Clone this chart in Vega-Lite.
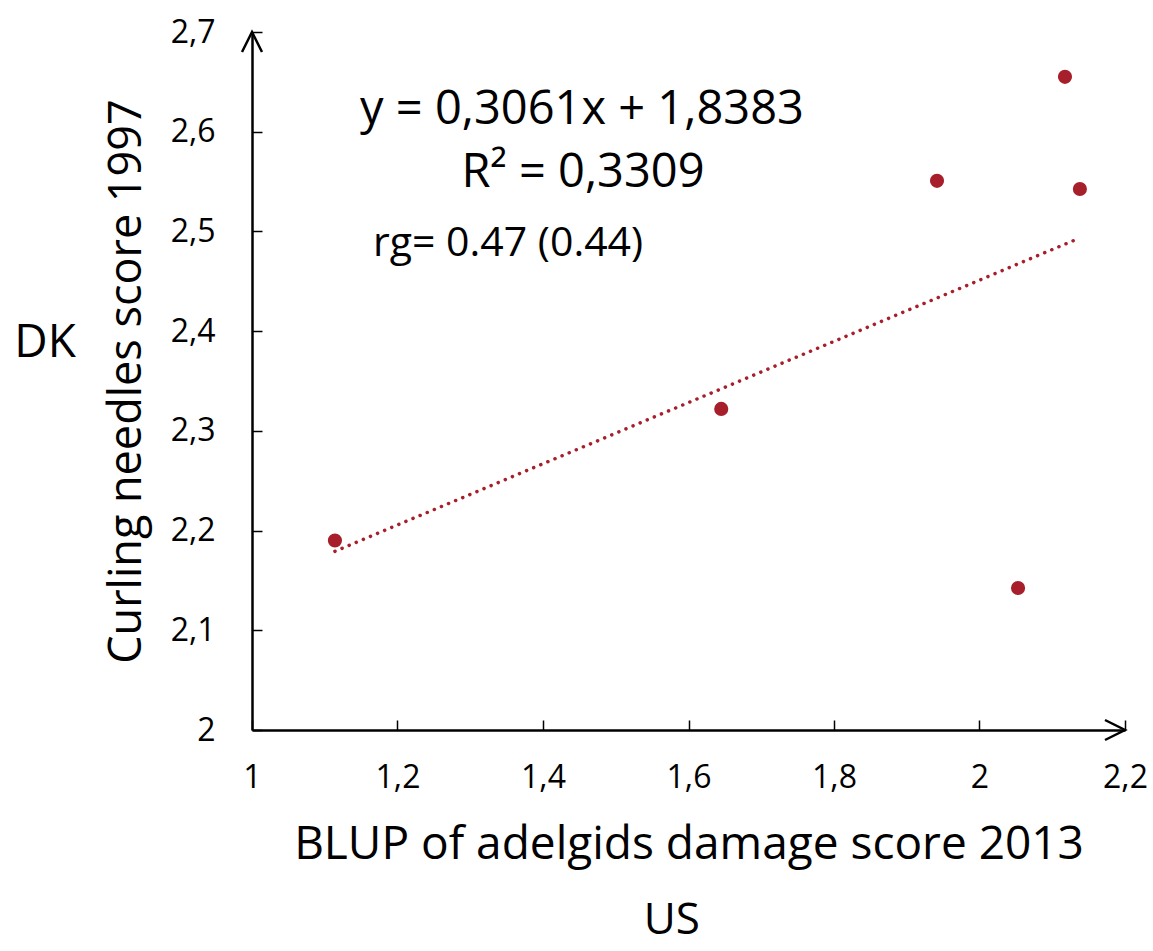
{
  "$schema": "https://vega.github.io/schema/vega-lite/v6.json",
  "autosize": "none",
  "width": 873,
  "height": 698,
  "padding": {"left": 252, "top": 32, "right": 28, "bottom": 221},
  "background": "white",
  "config": {"view": {"stroke": null}, "font": "Open Sans"},
  "datasets": {
    "pts": [
      {"x": 1.114, "y": 2.19},
      {"x": 1.645, "y": 2.322},
      {"x": 1.9416, "y": 2.5507},
      {"x": 2.053, "y": 2.1424},
      {"x": 2.1175, "y": 2.655},
      {"x": 2.138, "y": 2.5426}
    ],
    "labels": [
      {"x": 1.4536, "y": 2.6219, "text": "y = 0,3061x + 1,8383", "size": 47},
      {"x": 1.455, "y": 2.5587, "text": "R² = 0,3309", "size": 47},
      {"x": 1.352, "y": 2.4875, "text": "rg= 0.47 (0.44)", "size": 41},
      {"x": 0.7155, "y": 2.388, "text": "DK", "size": 46},
      {"x": 1.577, "y": 1.8084, "text": "US", "size": 44}
    ],
    "arrows": [
      {"x": 2.2, "y": 2, "dir": "right"},
      {"x": 1, "y": 2.7, "dir": "up"}
    ]
  },
  "layer": [
    {
      "data": {"name": "pts"},
      "transform": [{"regression": "y", "on": "x"}],
      "mark": {"type": "line", "color": "#a61f2a", "strokeWidth": 3.5, "strokeDash": [0.1, 7.6], "strokeCap": "round"},
      "encoding": {
        "x": {"field": "x", "type": "quantitative"},
        "y": {"field": "y", "type": "quantitative"}
      }
    },
    {
      "data": {"name": "pts"},
      "mark": {"type": "point", "filled": true, "color": "#a61f2a", "opacity": 1, "size": 200},
      "encoding": {
        "x": {
          "field": "x", "type": "quantitative",
          "scale": {"domain": [1, 2.2], "nice": false, "zero": false},
          "axis": {
            "title": "BLUP of adelgids damage score 2013",
            "values": [1, 1.2, 1.4, 1.6, 1.8, 2, 2.2],
            "format": ",.1~f",
            "formatType": "number",
            "labelExpr": "replace(datum.label, '.', ',')",
            "domainColor": "black", "domainWidth": 2.5,
            "tickColor": "black", "tickWidth": 1.5, "tickSize": -10,
            "labelFontSize": 32, "labelColor": "black", "labelPadding": 42,
            "labelFont": "Open Sans", "labelFlush": false, "labelOverlap": false,
            "titleFontSize": 46, "titleFont": "Open Sans", "titleFontWeight": "normal", "titleColor": "black",
            "titlePadding": 29,
            "grid": false
          }
        },
        "y": {
          "field": "y", "type": "quantitative",
          "scale": {"domain": [2, 2.7], "nice": false, "zero": false},
          "axis": {
            "title": "Curling needles score 1997",
            "values": [2, 2.1, 2.2, 2.3, 2.4, 2.5, 2.6, 2.7],
            "format": ".1~f",
            "labelExpr": "replace(datum.label, '.', ',')",
            "domainColor": "black", "domainWidth": 2.5,
            "tickColor": "black", "tickWidth": 1.5, "tickSize": -10,
            "labelFontSize": 32, "labelColor": "black", "labelPadding": 47,
            "labelFont": "Open Sans", "labelFlush": false, "labelOverlap": false,
            "titleFontSize": 45, "titleFont": "Open Sans", "titleFontWeight": "normal", "titleColor": "black",
            "titlePadding": 21,
            "grid": false
          }
        }
      }
    },
    {
      "data": {"name": "labels"},
      "mark": {"type": "text", "font": "Open Sans", "color": "black", "align": "center", "baseline": "middle"},
      "encoding": {
        "x": {"field": "x", "type": "quantitative"},
        "y": {"field": "y", "type": "quantitative"},
        "text": {"field": "text"},
        "size": {"field": "size", "type": "quantitative", "scale": null}
      }
    },
    {
      "data": {"name": "arrows"},
      "mark": {"type": "point", "filled": false, "stroke": "black", "strokeWidth": 2.5, "size": 400, "opacity": 1},
      "encoding": {
        "x": {"field": "x", "type": "quantitative"},
        "y": {"field": "y", "type": "quantitative"},
        "shape": {
          "field": "dir", "type": "nominal",
          "scale": {"domain": ["right", "up"], "range": ["M-2,-1L0,0L-2,1", "M-1,2L0,0L1,2"]},
          "legend": null
        }
      }
    }
  ]
}
